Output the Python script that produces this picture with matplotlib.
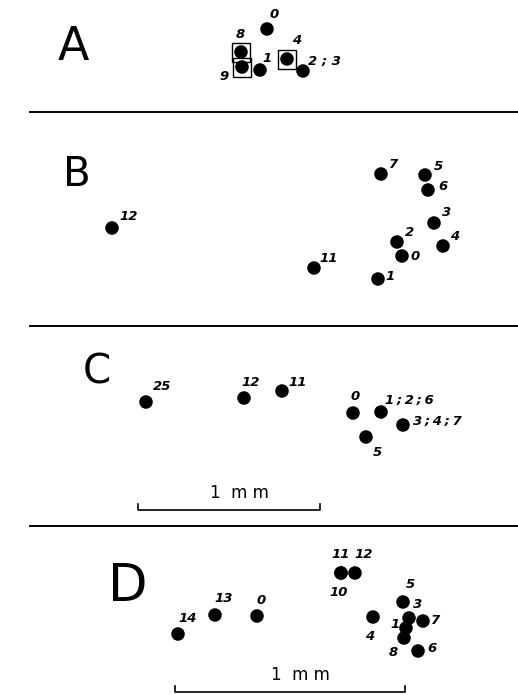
import numpy as np
import matplotlib.pyplot as plt

plt.rcParams['font.family'] = ['Liberation Sans Narrow', 'DejaVu Sans']

# dot positions (image units) and labels for each panel
a_x = [267, 241, 242, 260, 287, 303]
a_y = [29, 52, 67, 70, 59, 71]
a_lab = ['0', '8', '9', '1', '4', '2 ; 3']
a_boxed = ['8', '9', '4']

b_x = [112, 381, 425, 428, 434, 443, 397, 402, 314, 378]
b_y = [228, 174, 175, 190, 223, 246, 242, 256, 268, 279]
b_lab = ['12', '7', '5', '6', '3', '4', '2', '0', '11', '1']

c_x = [146, 244, 282, 353, 381, 403, 366]
c_y = [402, 398, 391, 413, 412, 425, 437]
c_lab = ['25', '12', '11', '0', '1\u2009;\u20092\u2009;\u20096',
         '3\u2009;\u20094\u2009;\u20097', '5']

d_x = [341, 341, 355, 215, 257, 178, 373, 403, 409, 423, 406, 404, 418]
d_y = [573, 573, 573, 615, 616, 634, 617, 602, 618, 621, 628, 638, 651]
d_lab = ['11', '10', '12', '13', '0', '14', '4', '5', '3', '7', '1', '8', '6']

# label offsets from dots
a_off = [(7, -14), (-1, -17), (-18, 10), (7, -11), (10, -19), (21, -10)]
b_off = [(17, -11), (13, -9), (13, -8), (15, -3), (13, -10), (12, -9),
         (13, -9), (13, 0), (15, -10), (12, -2)]
c_off = [(16, -15), (7, -16), (16, -8), (2, -17), (28, -12), (34, -4), (11, 15)]
d_off = [(0, -18), (-2, 19), (9, -18), (9, -17), (4, -16), (10, -15), (-3, 19),
         (7, -17), (9, -14), (13, 0), (-11, -3), (-11, 14), (14, -2)]

panels = [
    ('A', 73, 47, 33, a_x, a_y, a_lab, a_off),
    ('B', 77, 175, 29, b_x, b_y, b_lab, b_off),
    ('C', 97, 372, 29, c_x, c_y, c_lab, c_off),
    ('D', 128, 587, 37, d_x, d_y, d_lab, d_off),
]

fig = plt.figure(figsize=(5.18, 6.95), dpi=100)
ax = fig.add_axes([0, 0, 1, 1])
ax.set_xlim(0, 518)
ax.set_ylim(695, 0)
ax.axis('off')

for name, lx, ly, fs, xs, ys, labs, offs in panels:
    ax.text(lx, ly, name, fontsize=fs, ha='center', va='center', color='black')
    ax.scatter(xs, ys, s=95, c='black', edgecolors='none', zorder=3)
    for x, y, lab, (dx, dy) in zip(xs, ys, labs, offs):
        ax.text(x + dx, y + dy, lab, fontsize=9.5, fontweight='bold',
                fontstyle='italic', ha='center', va='center')

# boxes around some dots in A
for x, y, lab in zip(a_x, a_y, a_lab):
    if lab in a_boxed:
        ax.add_patch(plt.Rectangle((x - 9, y - 9.5), 18, 19, fill=False,
                                   lw=1.0, ec='black', zorder=4))

# separators
for ys in [112, 326, 526]:
    ax.plot([30, 518], [ys, ys], color='black', lw=1.4)

# scale bars
for x0, x1, yb in [(138, 320, 510), (175, 405, 692)]:
    ax.plot([x0, x0, x1, x1], [yb - 6, yb, yb, yb - 6], color='black', lw=1.2)
    ax.text((x0 + x1) / 2 + 10, yb - 17, '1  m m', fontsize=12,
            ha='center', va='center')

fig.savefig('out.png', dpi=100)
